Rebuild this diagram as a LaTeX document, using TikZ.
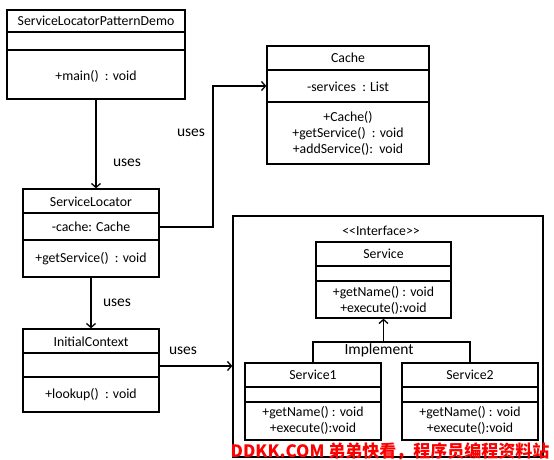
\documentclass[tikz,border=0pt]{standalone}
\usepackage{fontspec}
\setmainfont{Carlito}
\newfontfamily\cjkfont{Noto Sans CJK SC}
\usetikzlibrary{arrows.meta}
\tikzset{
    classbox/.style={draw, line width=1.3pt, inner sep=0pt},
    member/.style={font=\fontsize{13.8}{16}\selectfont, align=center, inner sep=0pt},
    uses/.style={font=\fontsize{15.5}{17}\selectfont, inner sep=0pt},
    link/.style={line width=1.3pt, -{Straight Barb[length=4pt,width=9pt]}}
    }

\begin{document}
\begin{tikzpicture}[x=1pt, y=-1pt]
	\useasboundingbox (0,0) rectangle (554,460);

	% class boxes
	\node[classbox, minimum width=178, minimum height=89] (demo) at (96,54.5) {};
	\node[classbox, minimum width=162, minimum height=118] (cache) at (348,105) {};
	\node[classbox, minimum width=136, minimum height=88] (locator) at (91,233) {};
	\node[classbox, minimum width=136, minimum height=83] (initctx) at (91,370.5) {};
	\node[classbox, minimum width=310, minimum height=241] (frame) at (388,336.5) {};
	\node[classbox, minimum width=135, minimum height=76] (service) at (383.5,280) {};
	\node[classbox, minimum width=136, minimum height=77] (service1) at (313,401.5) {};
	\node[classbox, minimum width=136, minimum height=77] (service2) at (470,401.5) {};

	% compartments
	\foreach \cls/\ya/\yb in {demo/32/50, cache/70/102, locator/213/240,
		initctx/353/377, service/266/281, service1/387/402, service2/387/402}
		\draw[line width=1.3pt] (\cls.west |- 0,\ya) -- (\cls.east |- 0,\ya)
			(\cls.west |- 0,\yb) -- (\cls.east |- 0,\yb);

	% texts
	\node[member] (demotitle) at (96,21) {ServiceLocatorPatternDemo};
	\node[member] (demoops) at (96,76) {+main()\ \ : void};
	\node[member] (cachetitle) at (348,58) {Cache};
	\node[member] (cacheattr) at (348,87) {-services\ \ : List};
	\node[member] (cacheops) at (348,133) {+Cache()\\+getService()\ \ : void\\+addService():\ \ void};
	\node[member] (loctitle) at (91,202) {ServiceLocator};
	\node[member] (locattr) at (91,227) {-cache: Cache};
	\node[member] (locops) at (91,259) {+getService()\ \ : void};
	\node[member] (ictitle) at (91,342) {InitialContext};
	\coordinate (icattr) at (91,366);
	\node[member] (icops) at (91,395) {+lookup()\ \ : void};
	\node[member] (stereo) at (381,231) {{<}{<}Interface{>}{>}};
	\node[member] (srvtitle) at (383.5,254) {Service};
	\node[member] (srvops) at (383.5,300.5) {+getName()\ : void\\+execute():void};
	\node[member] (s1title) at (313,375) {Service1};
	\node[member] (s1ops) at (313,420.5) {+getName()\ : void\\+execute():void};
	\node[member] (s2title) at (470,375) {Service2};
	\node[member] (s2ops) at (470,420.5) {+getName()\ : void\\+execute():void};

	% connectors
	\draw[link] (demo.south) -- (demo.south |- locator.north);
	\node[uses] (uses1) at (127,163) {uses};
	\coordinate (bend) at (213,86);
	\draw[link] (locator.east |- locattr) -| (bend) -- (bend -| cache.west);
	\node[uses] (uses2) at (191,133) {uses};
	\draw[link] (locator.south) -- (initctx.north);
	\node[uses] (uses3) at (117,303) {uses};
	\draw[link] (initctx.east |- icattr) -- (frame.west |- icattr);
	\node[uses] (uses4) at (183,351) {uses};

	\coordinate (impl) at (383.5,342);
	\draw[link] (impl) -- (service.south);
	\draw[line width=1.3pt] (service1.north) |- (impl) -| (service2.north);
	\node[uses, anchor=north] (impltext) at (379,343.5) {Implement};

	% watermark
	\node[text=red, inner sep=0pt, font=\cjkfont\bfseries\fontsize{17}{17}\selectfont] (mark) at (390,451) {DDKK.COM 弟弟快看，程序员编程资料站};
\end{tikzpicture}
\end{document}
